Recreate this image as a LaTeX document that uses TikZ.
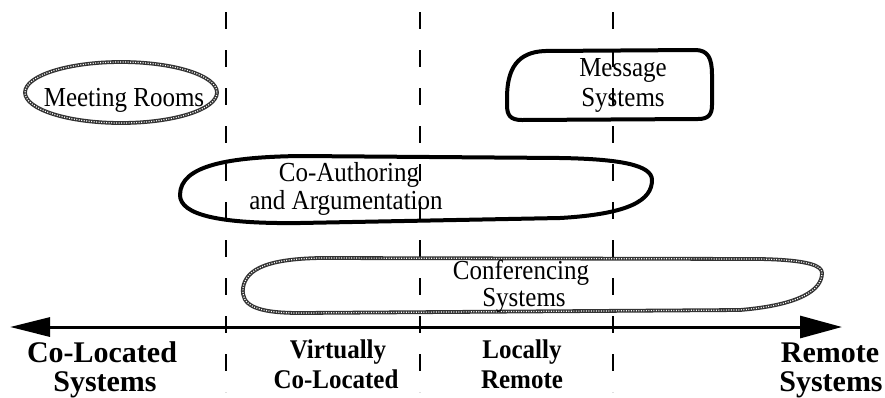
\documentclass[tikz,border=0pt]{standalone}
\usepackage{fontspec}
\setmainfont{Liberation Serif}
\usetikzlibrary{arrows.meta}
\tikzset{
  divider/.style={draw=black, line width=2pt, dash pattern=on 17pt off 21pt},
  thickoval/.style={draw=black, line width=4pt, line join=round},
  chainoval/.style={draw=black!80, line width=3.8pt, line join=round,
     postaction={draw=white, line width=1.2pt, dash pattern=on 1pt off 1.5pt}},
  ovaltext/.style={anchor=base, inner sep=0pt, font=\fontsize{25}{28}\selectfont},
  midtext/.style={anchor=base, inner sep=0pt, font=\fontsize{25}{28}\selectfont\bfseries},
  endtext/.style={anchor=base, inner sep=0pt, font=\fontsize{30}{30}\selectfont\bfseries},
  axis/.style={line width=3pt, {Triangle[length=40pt,width=19pt]}-{Triangle[length=42pt,width=22pt]}}
}
\begin{document}
\begin{tikzpicture}[x=1pt,y=-1pt]
\useasboundingbox (0,0) rectangle (885,397);
% dividers
\foreach \xx in {226,420,613}{
  \draw[divider] (\xx,12) -- (\xx,392);
}
% axis
\coordinate (axl) at (10,327);
\coordinate (axr) at (842,327);
\draw[axis] (axl) -- (axr);
% Meeting Rooms
\draw[chainoval] (121,92.5) ellipse[x radius=96, y radius=30.5];
\node[ovaltext] (mr) at (124,106) {\scalebox{1}[1.1]{Meeting Rooms}};
% Message Systems
\draw[thickoval] (545,51) -- (695,50) .. controls (708,50) and (712,58) .. (712,75)
  -- (712,105) .. controls (712,115) and (708,119) .. (698,119)
  -- (522,120) .. controls (510,120) and (507,115) .. (507,105)
  -- (507,98) .. controls (507,68) and (518,52) .. (545,51) -- cycle;
\node[ovaltext] (ms1) at (623,76) {\scalebox{1}[1.1]{Message}};
\node[ovaltext] (ms2) at (623,106) {\scalebox{1}[1.1]{Systems}};
% Co-Authoring
\draw[thickoval] (180,195) .. controls (180,165) and (230,157) .. (300,156)
  -- (560,158) .. controls (620,159) and (652,165) .. (652,180)
  .. controls (652,200) and (630,214) .. (560,218)
  -- (300,223) .. controls (220,224) and (180,215) .. (180,195) -- cycle;
\node[ovaltext] (ca1) at (349,181) {\scalebox{1}[1.1]{Co-Authoring}};
\node[ovaltext] (ca2) at (346,209) {\scalebox{1}[1.1]{and Argumentation}};
% Conferencing
\draw[chainoval] (243,288) .. controls (246,268) and (270,259) .. (320,258)
  -- (760,259) .. controls (810,260) and (822,266) .. (822,273)
  .. controls (822,290) and (800,305) .. (740,310)
  -- (300,313) .. controls (255,313) and (241,305) .. (243,288) -- cycle;
\node[ovaltext] (cs1) at (521,279) {\scalebox{1}[1.1]{Conferencing}};
\node[ovaltext] (cs2) at (524,306) {\scalebox{1}[1.1]{Systems}};
% axis labels
\node[endtext] (cl1) at (102,362) {Co-Located};
\node[endtext] (cl2) at (105,391) {Systems};
\node[midtext] (vc1) at (338,358) {\scalebox{1}[1.08]{Virtually}};
\node[midtext] (vc2) at (336,388) {\scalebox{1}[1.08]{Co-Located}};
\node[midtext] (lr1) at (522,358) {\scalebox{1}[1.08]{Locally}};
\node[midtext] (lr2) at (522,388) {\scalebox{1}[1.08]{Remote}};
\node[endtext] (rs1) at (830,362) {Remote};
\node[endtext] (rs2) at (831,391) {Systems};
\end{tikzpicture}
\end{document}
